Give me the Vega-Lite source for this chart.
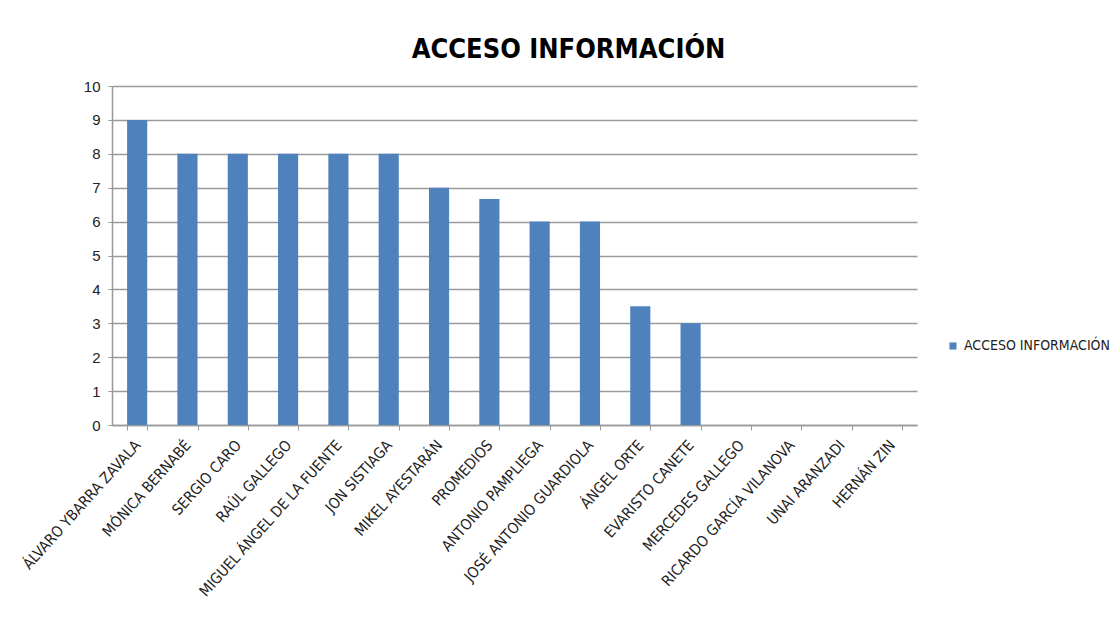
{
  "$schema": "https://vega.github.io/schema/vega-lite/v6.json",
  "width": 805,
  "height": 339,
  "autosize": {"type": "none"},
  "padding": {"left": 112, "top": 86, "right": 200, "bottom": 194},
  "background": "white",
  "title": {
    "text": "ACCESO INFORMACIÓN",
    "font": "Liberation Sans Narrow, DejaVu Sans Condensed, Liberation Sans, sans-serif",
    "fontSize": 27,
    "fontWeight": "bold",
    "color": "#000000",
    "anchor": "middle",
    "dx": 54,
    "offset": 15
  },
  "data": {
    "values": [
      {"nombre": "ÁLVARO YBARRA ZAVALA", "valor": 9, "serie": "ACCESO INFORMACIÓN"},
      {"nombre": "MÓNICA BERNABÉ", "valor": 8, "serie": "ACCESO INFORMACIÓN"},
      {"nombre": "SERGIO CARO", "valor": 8, "serie": "ACCESO INFORMACIÓN"},
      {"nombre": "RAÚL GALLEGO", "valor": 8, "serie": "ACCESO INFORMACIÓN"},
      {"nombre": "MIGUEL ÁNGEL DE LA FUENTE", "valor": 8, "serie": "ACCESO INFORMACIÓN"},
      {"nombre": "JON SISTIAGA", "valor": 8, "serie": "ACCESO INFORMACIÓN"},
      {"nombre": "MIKEL AYESTARÁN", "valor": 7, "serie": "ACCESO INFORMACIÓN"},
      {"nombre": "PROMEDIOS", "valor": 6.67, "serie": "ACCESO INFORMACIÓN"},
      {"nombre": "ANTONIO PAMPLIEGA", "valor": 6, "serie": "ACCESO INFORMACIÓN"},
      {"nombre": "JOSÉ ANTONIO GUARDIOLA", "valor": 6, "serie": "ACCESO INFORMACIÓN"},
      {"nombre": "ÁNGEL ORTE", "valor": 3.5, "serie": "ACCESO INFORMACIÓN"},
      {"nombre": "EVARISTO CANETE", "valor": 3, "serie": "ACCESO INFORMACIÓN"},
      {"nombre": "MERCEDES GALLEGO", "valor": 0, "serie": "ACCESO INFORMACIÓN"},
      {"nombre": "RICARDO GARCÍA VILANOVA", "valor": 0, "serie": "ACCESO INFORMACIÓN"},
      {"nombre": "UNAI ARANZADI", "valor": 0, "serie": "ACCESO INFORMACIÓN"},
      {"nombre": "HERNÁN ZIN", "valor": 0, "serie": "ACCESO INFORMACIÓN"}
    ]
  },
  "mark": {"type": "bar"},
  "encoding": {
    "x": {
      "field": "nombre",
      "type": "nominal",
      "sort": null,
      "title": null,
      "scale": {"paddingInner": 0.6, "paddingOuter": 0.3},
      "axis": {
        "labelAngle": -48,
        "labelAlign": "right",
        "labelBaseline": "middle",
        "labelFont": "Liberation Sans Narrow, DejaVu Sans Condensed, Liberation Sans, sans-serif",
        "labelFontSize": 15,
        "labelColor": "#222222",
        "labelPadding": 12,
        "labelOverlap": false,
        "labelLimit": 300,
        "tickBand": "extent",
        "tickSize": 5,
        "tickColor": "#999999",
        "domainColor": "#999999",
        "domainWidth": 1.5,
        "grid": false
      }
    },
    "y": {
      "field": "valor",
      "type": "quantitative",
      "title": null,
      "scale": {"domain": [0, 10], "nice": false},
      "axis": {
        "values": [0, 1, 2, 3, 4, 5, 6, 7, 8, 9, 10],
        "labelFont": "Liberation Sans",
        "labelFontSize": 15,
        "labelColor": "#222222",
        "labelPadding": 8,
        "tickSize": 4,
        "tickColor": "#999999",
        "domainColor": "#999999",
        "domainWidth": 1.5,
        "gridColor": "#9a9a9a",
        "gridWidth": 1.5
      }
    },
    "color": {
      "field": "serie",
      "type": "nominal",
      "scale": {"range": ["#4F81BD"]},
      "legend": {
        "title": null,
        "orient": "none",
        "legendX": 834,
        "legendY": 253,
        "symbolType": "square",
        "symbolSize": 50,
        "labelFont": "Liberation Sans Narrow, DejaVu Sans Condensed, Liberation Sans, sans-serif",
        "labelFontSize": 14,
        "labelColor": "#222222",
        "labelLimit": 300
      }
    }
  },
  "config": {"view": {"stroke": null}}
}
